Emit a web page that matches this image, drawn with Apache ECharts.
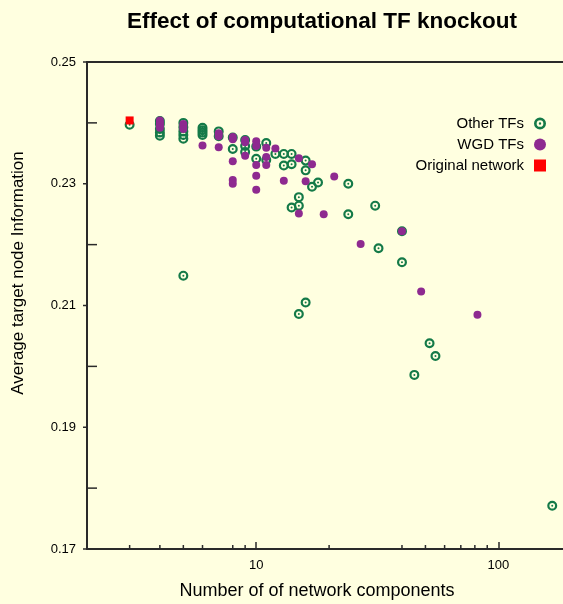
<!DOCTYPE html>
<html>
<head>
<meta charset="utf-8">
<script src="https://cdn.jsdelivr.net/npm/echarts@6/dist/echarts.min.js"></script>
<style>
  html, body { margin: 0; padding: 0; background: #ffffe0; }
  #chart { width: 563px; height: 604px; }
</style>
</head>
<body>
<div id="chart"></div>
<script>
// knockout results: [number of components, average target node information]
let otherTFs = [
  [3, 0.2397],
  [4, 0.2403], [4, 0.2398], [4, 0.2390], [4, 0.2384], [4, 0.2379],
  [5, 0.2400], [5, 0.2393], [5, 0.2386], [5, 0.2380], [5, 0.2374], [5, 0.2149],
  [6, 0.2392], [6, 0.2388], [6, 0.2384], [6, 0.2380],
  [7, 0.2386], [7, 0.2378],
  [8, 0.2376], [8, 0.2357],
  [9, 0.2372], [9, 0.2362], [9, 0.2352],
  [10, 0.2361], [10, 0.2341],
  [11, 0.2367], [11, 0.2339],
  [12, 0.2349],
  [13, 0.2349], [13, 0.2330],
  [14, 0.2349], [14, 0.2332], [14, 0.2261],
  [15, 0.2278], [15, 0.2264], [15, 0.2086],
  [16, 0.2338], [16, 0.2322], [16, 0.2105],
  [17, 0.2295],
  [18, 0.2302],
  [24, 0.2300], [24, 0.2250],
  [31, 0.2264],
  [32, 0.2194],
  [40, 0.2222], [40, 0.2171],
  [45, 0.1986],
  [52, 0.2038],
  [55, 0.2017],
  [167, 0.1771]
]
let wgdTFs = [
  [4, 0.2404], [4, 0.2400], [4, 0.2396], [4, 0.2392],
  [5, 0.2398], [5, 0.2394], [5, 0.2390],
  [6, 0.2363],
  [7, 0.2383], [7, 0.2378], [7, 0.2360],
  [8, 0.2377], [8, 0.2373], [8, 0.2337], [8, 0.2306], [8, 0.2300],
  [9, 0.2372], [9, 0.2368], [9, 0.2346],
  [10, 0.2370], [10, 0.2362], [10, 0.2331], [10, 0.2313], [10, 0.2290],
  [11, 0.2359], [11, 0.2344], [11, 0.2331],
  [12, 0.2358],
  [13, 0.2305],
  [15, 0.2342], [15, 0.2251],
  [16, 0.2304],
  [17, 0.2332],
  [19, 0.2250],
  [21, 0.2312],
  [27, 0.2201],
  [40, 0.2222],
  [48, 0.2123],
  [82, 0.2085]
]
let originalNet = [[3, 0.2404]]

// axis ticks
let xMin = 2, xMax = 185
let yMin = 0.17, yMax = 0.25
let xLabelTicks = [10, 100]
let xMinorTicks = [3, 4, 5, 6, 8, 9, 20, 40, 50, 60, 70, 80, 90]
let yLabelTicks = [0.17, 0.19, 0.21, 0.23, 0.25]
let yMinorTicks = [0.18, 0.20, 0.22, 0.24]

let green = '#147a48'
let purple = '#8e2a90'
let red = '#ff0000'
let axisColor = '#2a2a2a'
let font = 'Liberation Sans, Arial, sans-serif'
let ringSymbol = 'path://M50,0A50,50 0 1,1 50,100A50,50 0 1,1 50,0Z' +
  'M50,22A28,28 0 1,0 50,78A28,28 0 1,0 50,22Z' +
  'M50,40A10,10 0 1,1 50,60A10,10 0 1,1 50,40Z'

// short tick marks drawn through the axes' own scales
function tickSeries(data, dx, dy) {
  return {
    type: 'custom',
    silent: true,
    clip: false,
    z: 5,
    data: data,
    renderItem: function (params, api) {
      let p = api.coord([api.value(0), api.value(1)])
      return {
        type: 'line',
        shape: { x1: p[0], y1: p[1], x2: p[0] + dx, y2: p[1] + dy },
        style: { stroke: axisColor, lineWidth: 1.5 }
      }
    }
  }
}

let chart = echarts.init(document.getElementById('chart'))
let option = {
  backgroundColor: '#ffffe0',
  animation: false,
  title: {
    text: 'Effect of computational TF knockout',
    left: 317,
    top: 5,
    textAlign: 'center',
    textStyle: { fontFamily: font, fontSize: 22.5, fontWeight: 'bold', color: '#000' }
  },
  legend: {
    data: ['Other TFs', 'WGD TFs', 'Original network'],
    orient: 'vertical',
    align: 'right',
    right: 12,
    top: 111,
    itemWidth: 12,
    itemHeight: 12,
    itemGap: 6,
    textStyle: { fontFamily: font, fontSize: 15, color: '#000', padding: [0, 5, 0, 0] }
  },
  grid: {
    left: 87,
    right: 0,
    top: 62,
    bottom: 55,
    containLabel: false
  },
  xAxis: [
    {
      type: 'log',
      logBase: 10,
      min: xMin,
      max: xMax,
      axisLine: { lineStyle: { color: axisColor, width: 2 } },
      axisTick: { inside: true, length: 7, lineStyle: { color: axisColor, width: 1.5 } },
      splitLine: { show: false },
      axisLabel: {
        showMinLabel: false,
        showMaxLabel: false,
        margin: 10,
        fontFamily: font,
        fontSize: 13,
        color: '#000',
        formatter: function (v) {
          return xLabelTicks.some(t => Math.abs(t - v) < 1e-6 * t) ? String(Math.round(v)) : ''
        }
      }
    },
    {
      // top frame line only
      type: 'log',
      logBase: 10,
      position: 'top',
      min: xMin,
      max: xMax,
      axisLine: { lineStyle: { color: axisColor, width: 2 } },
      axisTick: { show: false },
      axisLabel: { show: false },
      splitLine: { show: false }
    }
  ],
  yAxis: {
    type: 'value',
    min: yMin,
    max: yMax,
    interval: 0.01,
    axisLine: { lineStyle: { color: axisColor, width: 2 } },
    axisTick: { show: false },
    splitLine: { show: false },
    axisLabel: {
      margin: 11,
      fontFamily: font,
      fontSize: 13,
      color: '#000',
      formatter: function (v) {
        return yLabelTicks.some(t => Math.abs(t - v) < 1e-6) ? v.toFixed(2) : ''
      }
    }
  },
  graphic: [
    {
      type: 'text',
      x: 18,
      y: 273,
      rotation: Math.PI / 2,
      style: {
        text: 'Average target node Information',
        font: '17px ' + font,
        fill: '#000',
        align: 'center',
        verticalAlign: 'middle'
      }
    },
    {
      type: 'text',
      x: 317,
      y: 591,
      style: {
        text: 'Number of of network components',
        font: '18px ' + font,
        fill: '#000',
        align: 'center',
        verticalAlign: 'middle'
      }
    }
  ],
  series: [
    {
      name: 'Other TFs',
      type: 'scatter',
      symbol: ringSymbol,
      symbolSize: 10,
      itemStyle: { color: green, opacity: 1 },
      data: otherTFs,
      z: 2
    },
    {
      name: 'WGD TFs',
      type: 'scatter',
      symbol: 'circle',
      symbolSize: 8,
      itemStyle: { color: purple, opacity: 1 },
      data: wgdTFs,
      z: 3
    },
    {
      name: 'Original network',
      type: 'scatter',
      symbol: 'rect',
      symbolSize: 8,
      itemStyle: { color: red, opacity: 1 },
      data: originalNet,
      z: 4
    },
    tickSeries(xMinorTicks.map(v => [v, yMin]), 0, -4),
    tickSeries(yMinorTicks.map(v => [xMin, v]), 10, 0),
    tickSeries(yLabelTicks.map(v => [xMin, v]), -4, 0)
  ]
}
chart.setOption(option)
</script>
</body>
</html>
